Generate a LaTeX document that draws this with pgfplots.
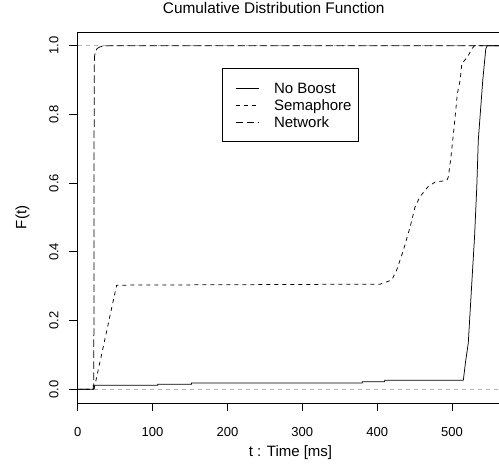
\documentclass[border=0pt]{standalone}
\usepackage{pgfplots}
\pgfplotsset{compat=1.18}
\usepackage{fontspec}
\setmainfont{Liberation Sans}
\definecolor{gray70}{RGB}{179,179,179}
\begin{document}
\begin{tikzpicture}
\useasboundingbox (0,0) rectangle (499pt,465pt);
\begin{axis}[
 at={(77.3pt,62pt)}, anchor=south west,
 scale only axis, width=425.7pt, height=371pt,
 xmin=-0.55, xmax=568, ymin=-0.04, ymax=1.04,
 axis line style={line width=0.75pt},
 tick style={line width=0.75pt, black},
 tick align=outside, major tick length=8.5pt,
 xtick={0,100,200,300,400,500}, xticklabels={0,100,200,300,400,500},
 ytick={0,0.2,0.4,0.6,0.8,1}, yticklabels={0.0,0.2,0.4,0.6,0.8,1.0},
 xtick pos=bottom, ytick pos=left,
 ticklabel style={font=\fontsize{13}{15}\selectfont},
 xticklabel style={anchor=base},
 xticklabel shift=25.5pt,
 yticklabel style={rotate=90, anchor=base},
 yticklabel shift=10.5pt,
 title={Cumulative Distribution Function},
 title style={at={(axis description cs:0.4615,1.035)}, anchor=base, font=\fontsize{15.4}{18}\selectfont},
 xlabel={t : Time [ms]},
 xlabel style={at={(axis description cs:0.5008,-0.1429)}, anchor=base, font=\fontsize{15}{18}\selectfont},
 ylabel={F(t)},
 ylabel style={at={(axis description cs:-0.1198,0.5)}, anchor=base, font=\fontsize{15}{18}\selectfont},
 legend style={at={(axis description cs:0.339,0.902)}, anchor=north west, draw=black, line width=0.75pt,
   inner xsep=13.3pt, inner ysep=13.8pt, row sep=6.5pt, column sep=15pt, cells={anchor=center},
   nodes={inner sep=0pt, text height=10.7pt, text depth=0pt, font=\fontsize{15}{18}\selectfont}},
 legend image code/.code={\draw[#1, line width=0.75pt] (0pt,0pt) -- (23pt,0pt);},
]
\addplot[gray70, line width=0.75pt, dash pattern=on 4pt off 4pt, forget plot] coordinates {(-10,0) (600,0)};
\addplot[gray70, line width=0.75pt, dash pattern=on 4pt off 4pt, forget plot] coordinates {(-10,1) (600,1)};
\addplot[black, line width=0.75pt] coordinates {
 (-10,0) (20.9,0) (20.9,0.0116) (107,0.0116) (107,0.0145) (152,0.0145) (152,0.0183)
 (380,0.0183) (380,0.022) (410,0.022) (410,0.026) (515,0.026) (518,0.08) (521.6,0.134)
 (525,0.26) (530,0.444) (533,0.589) (535,0.725) (541,0.9) (545,0.991) (547,1) (600,1)};
\addlegendentry{\makebox[71.4pt][l]{No Boost}}
\addplot[black, line width=0.75pt, dash pattern=on 4pt off 4pt] coordinates {
 (-10,0) (21.8,0) (52,0.303) (404,0.306) (419.5,0.318) (426,0.347) (435,0.405) (444,0.473)
 (450.6,0.531) (457,0.56) (468.4,0.591) (477.4,0.603) (493,0.608) (495,0.618) (498.5,0.676)
 (502.7,0.763) (507,0.86) (510.8,0.9) (513,0.948) (520.5,0.967) (526.4,0.991) (530,1) (600,1)};
\addlegendentry{\makebox[71.4pt][l]{Semaphore}}
\addplot[black, line width=0.75pt, dash pattern=on 7.5pt off 3.5pt] coordinates {
 (-10,0) (21.5,0) (22,0.9) (22.3,0.967) (23.5,0.982) (26,0.992) (30,0.997) (40,1) (600,1)};
\addlegendentry{\makebox[71.4pt][l]{Network}}
\end{axis}
\end{tikzpicture}
\end{document}
